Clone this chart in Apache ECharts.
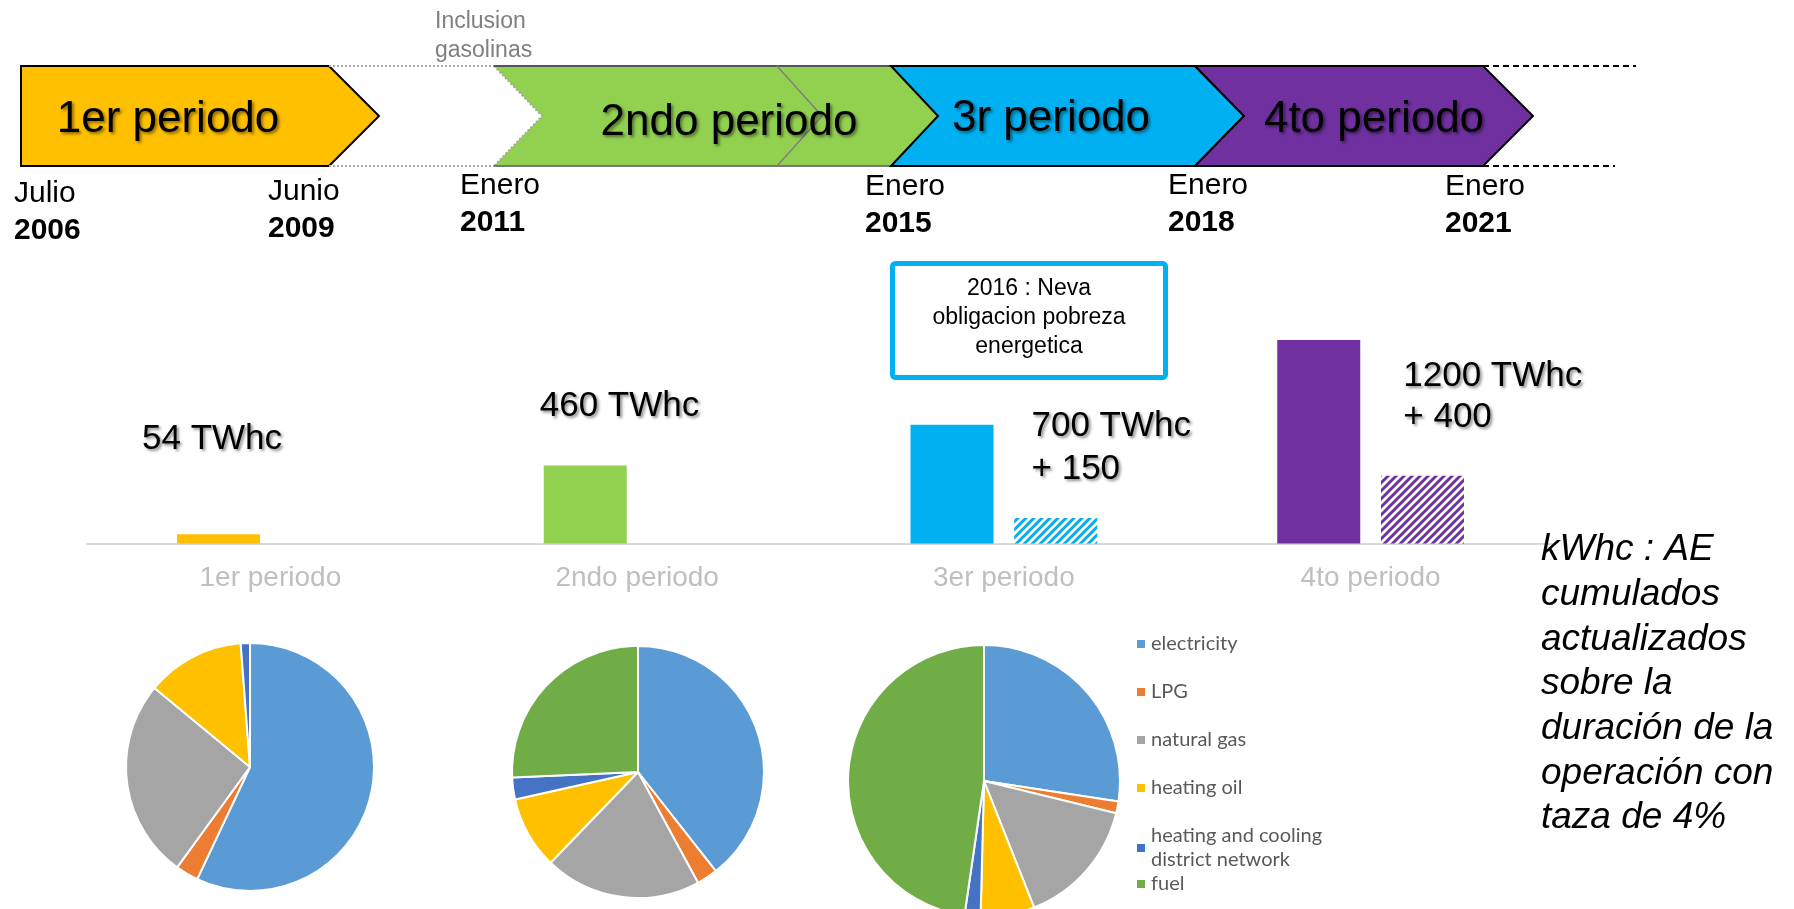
<!DOCTYPE html>
<html><head><meta charset="utf-8">
<script src="https://cdn.jsdelivr.net/npm/echarts@6/dist/echarts.min.js"></script>
<style>html,body{margin:0;padding:0;background:#fff}#c{width:1794px;height:909px}</style>
</head><body><div id="c"></div>
<script>
// ---------- data ----------
const categories = ['1er periodo', '2ndo periodo', '3er periodo', '4to periodo'];
const obligationTWhc = [54, 460, 700, 1200];
const extraTWhc = [null, null, 150, 400];
const fuelTypes = ['electricity', 'LPG', 'natural gas', 'heating oil', 'heating and cooling district network', 'fuel'];
const mixPeriod1 = [57, 3, 26, 12.8, 1.2, 0];
const mixPeriod2 = [39.4, 2.7, 20.1, 9.3, 2.8, 25.7];
const mixPeriod3 = [27.4, 1.4, 15.2, 6.4, 1.9, 47.7];
const periodNames = ['1er periodo', '2ndo periodo', '3r periodo', '4to periodo'];
const dateMonths = ['Julio', 'Junio', 'Enero', 'Enero', 'Enero', 'Enero'];
const dateYears = ['2006', '2009', '2011', '2015', '2018', '2021'];
const noteInclusion = 'Inclusion\ngasolinas';
const noteBox = '2016 : Neva\nobligacion pobreza\nenergetica';
const noteUnit = 'kWhc : AE\ncumulados\nactualizados\nsobre la\nduración de la\noperación con\ntaza de 4%';

// ---------- styles / layout ----------
const FONT = '"Liberation Sans", Arial, sans-serif';
const periodColors = ['#FFC000', '#92D050', '#00B0F0', '#7030A0'];
const pieColors = ['#5B9BD5', '#ED7D31', '#A5A5A5', '#FFC000', '#4472C4', '#70AD47'];
const labelPos = [[-35, -95], [-4, -59], [121, 23], [126, 57]];
const labelLH = [40, 40, 43, 41];
const shadow = { textShadowColor: 'rgba(0,0,0,0.45)', textShadowBlur: 3, textShadowOffsetX: 2, textShadowOffsetY: 2 };

function hatch(color) {
  const c = document.createElement('canvas');
  c.width = 8; c.height = 8;
  const g = c.getContext('2d');
  g.fillStyle = '#fff'; g.fillRect(0, 0, 8, 8);
  g.strokeStyle = color; g.lineWidth = 3;
  g.beginPath();
  g.moveTo(-2, 10); g.lineTo(10, -2);
  g.moveTo(-6, 6); g.lineTo(6, -6);
  g.moveTo(2, 14); g.lineTo(14, 2);
  g.stroke();
  return c;
}

const chart = echarts.init(document.getElementById('c'), null, { renderer: 'canvas' });

// timeline graphics
const Y0 = 66, Y1 = 166, YM = 116;
const g = [];
function poly(points, style, z) { g.push({ type: 'polygon', shape: { points }, style, z: z || 10 }); }
function line(points, style, z) { g.push({ type: 'polyline', shape: { points }, style: Object.assign({ fill: null }, style), z: z || 11 }); }
function text(x, y, str, style, z) {
  g.push({ type: 'text', x, y, z: z || 20, style: Object.assign({ text: str, fill: '#000', fontFamily: FONT, align: 'left', verticalAlign: 'middle' }, style) });
}
poly([[21, Y0], [329, Y0], [379, YM], [329, Y1], [21, Y1]], { fill: periodColors[0], stroke: '#000', lineWidth: 2 });
line([[329, Y0], [494, Y0]], { stroke: '#a6a6a6', lineWidth: 2, lineDash: [2, 2] });
line([[329, Y1], [494, Y1]], { stroke: '#a6a6a6', lineWidth: 2, lineDash: [2, 2] });
poly([[494, Y0], [891, Y0], [938, YM], [891, Y1], [494, Y1], [542, YM]], { fill: periodColors[1] });
line([[494, Y0], [542, YM], [494, Y1]], { stroke: '#a6a6a6', lineWidth: 2, lineDash: [2, 2] });
line([[494, Y0], [891, Y0]], { stroke: '#555', lineWidth: 2 });
line([[494, Y1], [891, Y1]], { stroke: '#777', lineWidth: 2 });
line([[777, Y0], [822, YM], [777, Y1]], { stroke: '#808080', lineWidth: 1.5 });
poly([[891, Y0], [1195, Y0], [1244, YM], [1195, Y1], [891, Y1], [938, YM]], { fill: periodColors[2], stroke: '#000', lineWidth: 2 }, 12);
poly([[1195, Y0], [1483, Y0], [1533, YM], [1483, Y1], [1195, Y1], [1244, YM]], { fill: periodColors[3], stroke: '#000', lineWidth: 2 }, 13);
line([[1483, Y0], [1636, Y0]], { stroke: '#000', lineWidth: 2, lineDash: [6, 4] });
line([[1453, Y1], [1615, Y1]], { stroke: '#000', lineWidth: 2, lineDash: [6, 4] });

const periodX = [168, 729, 1051, 1374], periodY = [120, 123, 119, 120];
periodNames.forEach((n, i) => text(periodX[i], periodY[i], n, Object.assign({ fontSize: 44, align: 'center' }, shadow)));

const dateX = [14, 268, 460, 865, 1168, 1445];
const dateY = [194, 192, 186, 187, 186, 187];
dateMonths.forEach((m, i) => {
  text(dateX[i], dateY[i], m, { fontSize: 30 });
  text(dateX[i], dateY[i] + 37, dateYears[i], { fontSize: 30, fontWeight: 'bold' });
});
text(435, 36, noteInclusion, { fontSize: 23, fill: '#7f7f7f', lineHeight: 29 });

g.push({ type: 'rect', shape: { x: 892.5, y: 263.5, width: 273, height: 114, r: 3 }, style: { fill: '#fff', stroke: '#00B0F0', lineWidth: 5 }, z: 10 });
text(1029, 318, noteBox, { fontSize: 23, align: 'center', lineHeight: 29 });
text(1541, 684, noteUnit, { fontSize: 37, fontStyle: 'italic', lineHeight: 44.7 });

const option = {
  backgroundColor: '#fff',
  animation: false,
  textStyle: { fontFamily: FONT },
  grid: { left: 87, width: 1467, top: 340, height: 203.5, containLabel: false },
  xAxis: {
    type: 'category', data: categories,
    axisLine: { lineStyle: { color: '#d9d9d9', width: 2 } },
    axisTick: { show: false },
    axisLabel: { color: '#bfbfbf', fontSize: 28, margin: 21, fontFamily: FONT }
  },
  yAxis: { type: 'value', min: 0, max: 1200, show: false, splitLine: { show: false } },
  legend: [
    {
      data: fuelTypes.slice(0, 5), orient: 'vertical', left: 1135, top: 632, padding: 0,
      itemWidth: 10, itemHeight: 10, itemGap: 24, icon: 'rect',
      formatter: n => n === fuelTypes[4] ? 'heating and cooling\ndistrict network' : n,
      textStyle: { color: '#595959', fontSize: 20, lineHeight: 24, fontFamily: 'Lato, "Liberation Sans", sans-serif' }
    },
    {
      data: fuelTypes.slice(5), orient: 'vertical', left: 1135, top: 872, padding: 0,
      itemWidth: 10, itemHeight: 10, itemGap: 24, icon: 'rect',
      textStyle: { color: '#595959', fontSize: 20, lineHeight: 24, fontFamily: 'Lato, "Liberation Sans", sans-serif' }
    }
  ],
  color: pieColors,
  series: [
    {
      type: 'bar', name: 'obligacion', barWidth: 83, barGap: '25%',
      data: obligationTWhc.map((v, i) => ({
        value: v,
        itemStyle: { color: periodColors[i] },
        label: {
          show: true, position: labelPos[i], align: 'left', verticalAlign: 'middle',
          lineHeight: labelLH[i], fontSize: 35, color: '#000', fontFamily: FONT,
          textShadowColor: shadow.textShadowColor, textShadowBlur: shadow.textShadowBlur,
          textShadowOffsetX: shadow.textShadowOffsetX, textShadowOffsetY: shadow.textShadowOffsetY,
          formatter: () => extraTWhc[i] != null ? `${v} TWhc\n+ ${extraTWhc[i]}` : `${v} TWhc`
        }
      }))
    },
    {
      type: 'bar', name: 'pobreza', barWidth: 83, barGap: '25%',
      data: extraTWhc.map((v, i) => v == null ? null : ({
        value: v,
        itemStyle: { color: { image: hatch(periodColors[i]), repeat: 'repeat' } }
      }))
    },
    ...[mixPeriod1, mixPeriod2, mixPeriod3].map((mix, k) => ({
      type: 'pie',
      center: [[250, 767], [638, 772], [984, 781]][k],
      radius: [0, [124, 126, 136][k]],
      startAngle: 90, clockwise: true,
      label: { show: false }, labelLine: { show: false },
      emphasis: { disabled: true },
      itemStyle: { borderColor: '#fff', borderWidth: 2 },
      data: fuelTypes.map((n, j) => ({ name: n, value: mix[j] }))
    }))
  ],
  graphic: g
};
chart.setOption(option);
</script>
</body></html>
